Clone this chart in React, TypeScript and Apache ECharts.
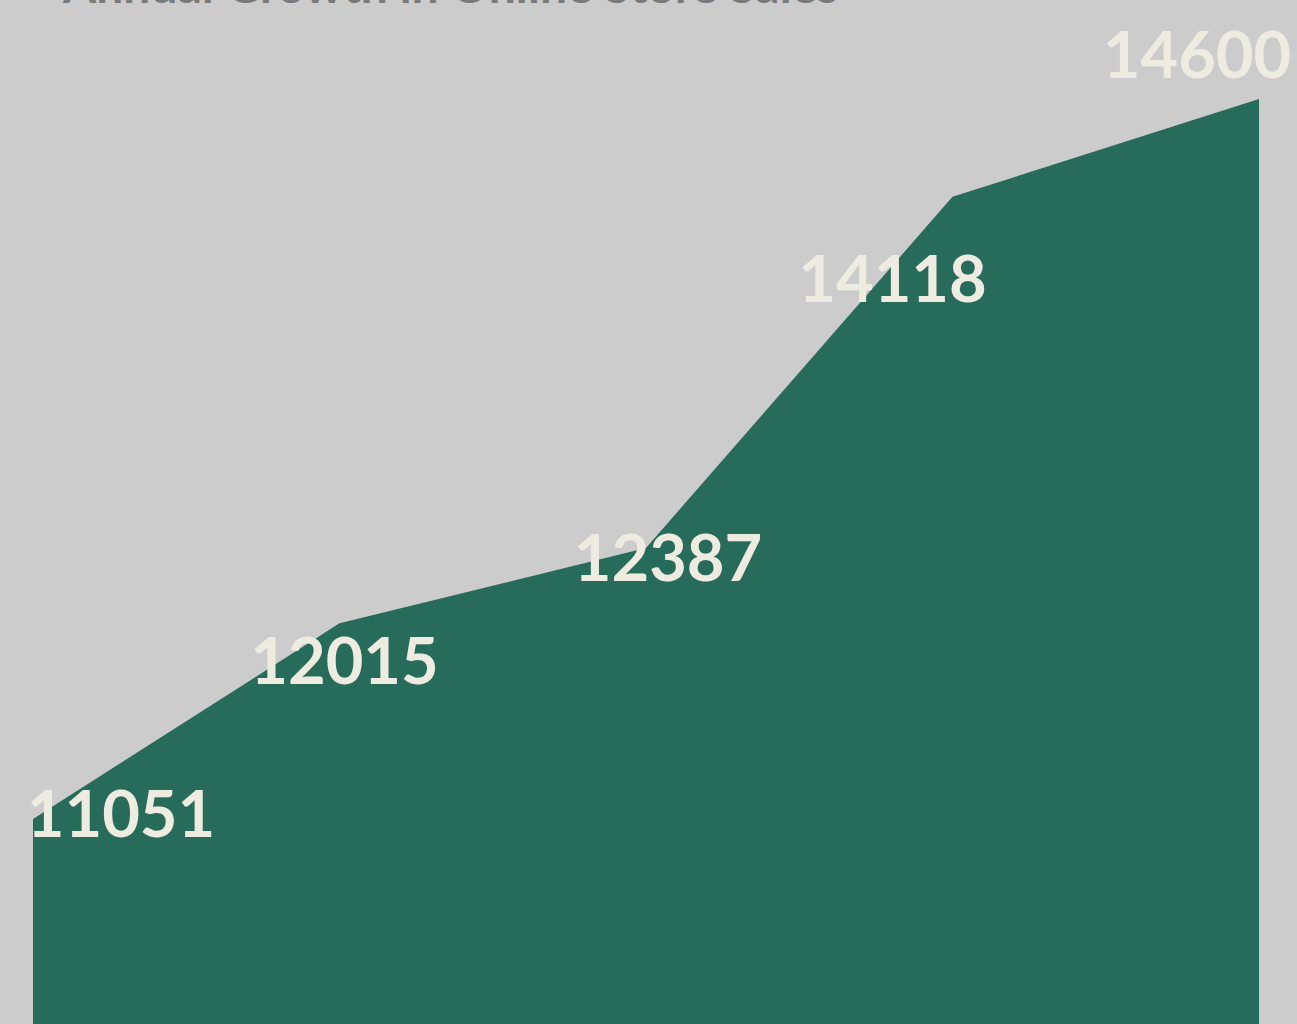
import React, { useEffect, useRef } from "react";
import * as echarts from "echarts";

const categories = ["2019", "2020", "2021", "2022", "2023"];
const values = [11051, 12015, 12387, 14118, 14600];
const labelOffsets: [number, number][] = [
  [88, -7],
  [5, 36],
  [22, 8],
  [-60, 80],
  [-62, -46],
];
const titleText = "Annual Growth in Online Store Sales";

export default function App() {
  const ref = useRef<HTMLDivElement>(null);
  useEffect(() => {
    document.body.style.margin = "0";
    document.body.style.background = "#cccccc";
    const chart = echarts.init(ref.current!, undefined, { renderer: "svg" });
    chart.setOption({
      animation: false,
      backgroundColor: "#cccccc",
      title: {
        text: titleText,
        left: 58,
        top: -45,
        textStyle: { fontFamily: "Lato", fontWeight: "bold", fontSize: 48, color: "#7a7a7a" },
      },
      grid: { left: 33, right: 38, top: 99, bottom: 0 },
      xAxis: {
        type: "category",
        data: categories,
        boundaryGap: false,
        show: false,
      },
      yAxis: {
        type: "value",
        min: 10040,
        max: 14600,
        show: false,
        splitLine: { show: false },
      },
      series: [
        {
          type: "line",
          data: values.map((v, i) => ({
            value: v,
            label: { offset: labelOffsets[i] },
          })),
          symbol: "circle",
          symbolSize: 1,
          itemStyle: { color: "transparent", borderWidth: 0 },
          lineStyle: { width: 0, color: "#276b5a" },
          areaStyle: { color: "#276b5a", opacity: 1 },
          label: {
            show: true,
            position: "inside",
            fontFamily: "Lato",
            fontWeight: "bold",
            fontSize: 65,
            color: "#eeece1",
          },
        },
      ],
    });
    return () => chart.dispose();
  }, []);
  return (
    <div
      ref={ref}
      style={{ position: "fixed", left: 0, top: 0, width: 1297, height: 1024 }}
    />
  );
}
